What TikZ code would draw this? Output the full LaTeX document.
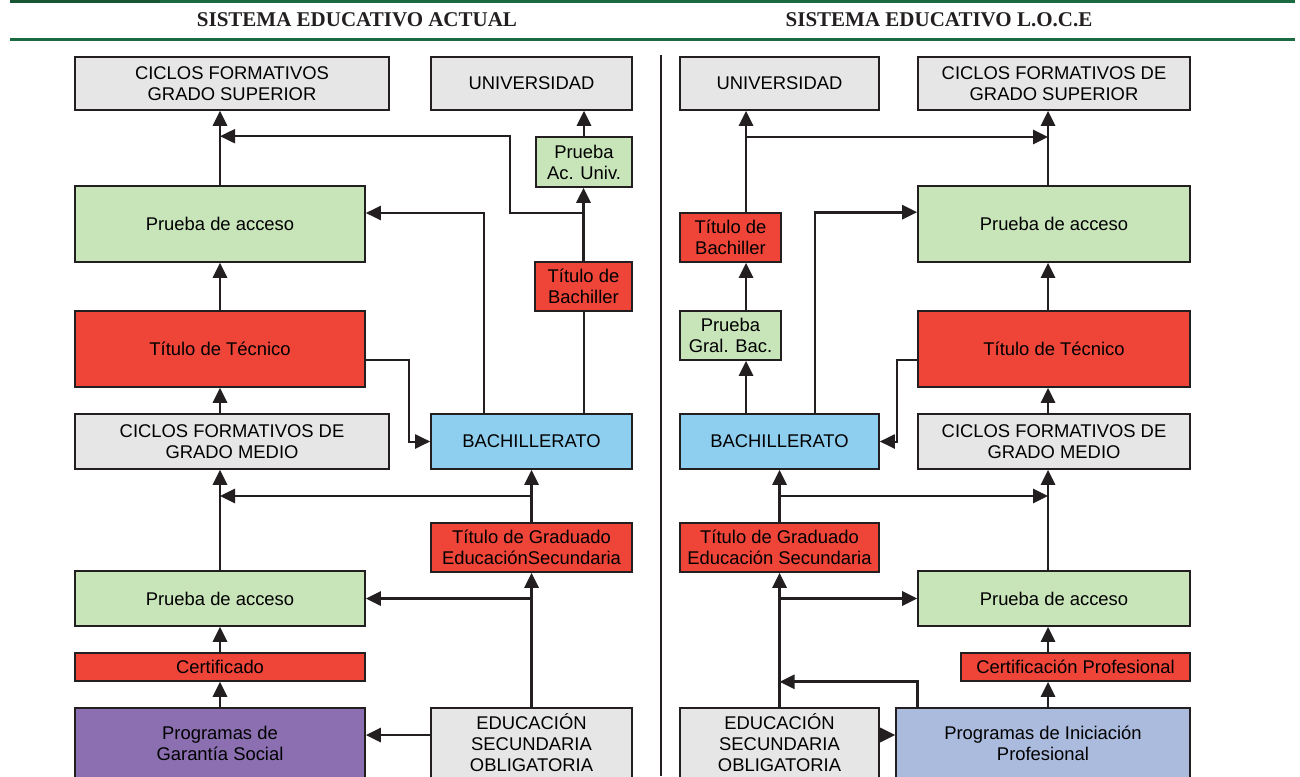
\documentclass[tikz,border=0pt]{standalone}
\usepackage{fontspec}
\setmainfont{Liberation Serif}
\setsansfont{Liberation Sans}
\usetikzlibrary{arrows.meta, positioning, calc}

\definecolor{linea}{RGB}{35,31,32}
\definecolor{verdecab}{RGB}{27,107,66}
\definecolor{grisbox}{RGB}{230,230,230}
\definecolor{verdebox}{RGB}{200,228,185}
\definecolor{rojobox}{RGB}{239,69,57}
\definecolor{azulbox}{RGB}{142,206,238}
\definecolor{moradobox}{RGB}{139,111,176}
\definecolor{lilabox}{RGB}{170,187,221}

\begin{document}
\begin{tikzpicture}[
    x=0.5pt, y=-0.5pt,
    caja/.style={rectangle, draw=linea, line width=0.8pt, inner sep=1pt, align=center, text=black, font=\sffamily\fontsize{9.2}{10.5}\selectfont},
    gris/.style={caja, fill=grisbox},
    verde/.style={caja, fill=verdebox},
    rojo/.style={caja, fill=rojobox},
    azul/.style={caja, fill=azulbox},
    morado/.style={caja, fill=moradobox},
    lila/.style={caja, fill=lilabox},
    titulo/.style={text=linea, font=\bfseries\fontsize{10.5}{12}\selectfont},
    arrow/.style={line width=1.4pt, draw=linea, -{Triangle[length=7.5pt,width=7pt]}},
    thinarrow/.style={line width=1pt, draw=linea, -{Triangle[length=7.5pt,width=7pt]}}
]
\useasboundingbox (0,0) rectangle (1300,776);
\clip (0,0) rectangle (1300,776);

% cabecera
\fill[verdecab] (10,0) rectangle (1295,2.5);
\fill[verdecab!80!black] (10,0) rectangle (160,3);
\fill[verdecab] (10,38) rectangle (1295,41);
\node (tituloA) [titulo] at (357,20) {SISTEMA EDUCATIVO ACTUAL};
\node (tituloB) [titulo] at (939,20) {SISTEMA EDUCATIVO L.O.C.E};
\draw[linea, line width=0.8pt] (661,55) -- (661,776);

% sistema actual
\node (cgsL) [gris, minimum width=157pt, minimum height=26.5pt] at (232,83.5) {CICLOS FORMATIVOS\\GRADO SUPERIOR};
\node (uniL) [gris, minimum width=100.5pt, minimum height=26.5pt] at (531.5,83.5) {UNIVERSIDAD};
\node (pauL) [verde, minimum width=48pt, minimum height=25pt] at (584,162) {Prueba\\Ac. Univ.};
\node (paccL) [verde, minimum width=145pt, minimum height=38pt] at (220,224) {Prueba de acceso};
\node (tbachL) [rojo, minimum width=48.5pt, minimum height=24.5pt] at (583.5,286.5) {Título de\\Bachiller};
\node (ttecL) [rojo, minimum width=145pt, minimum height=38pt] at (220,349) {Título de Técnico};
\node (cgmL) [gris, minimum width=157pt, minimum height=27.5pt] at (232,441.5) {CICLOS FORMATIVOS DE\\GRADO MEDIO};
\node (bachL) [azul, minimum width=100.5pt, minimum height=27.5pt] at (531.5,441.5) {BACHILLERATO};
\node (tgesoL) [rojo, minimum width=100.5pt, minimum height=24.5pt] at (531.5,547.5) {Título de Graduado\\EducaciónSecundaria};
\node (pacc2L) [verde, minimum width=145pt, minimum height=27.5pt] at (220,598.5) {Prueba de acceso};
\node (certL) [rojo, minimum width=145pt, minimum height=14pt] at (220,667) {Certificado};
\node (pgsL) [morado, minimum width=145pt, minimum height=35pt] at (220,743) {Programas de\\Garantía Social};
\node (esoL) [gris, minimum width=100.5pt, minimum height=35pt] at (531.5,743) {EDUCACIÓN\\SECUNDARIA\\OBLIGATORIA};

\coordinate (kL) at (510,213);
\coordinate (bL) at (484,213);
\coordinate (mL) at ($(tgesoL.north)!.5!(bachL.south)$);

\draw [arrow] (paccL.north) -- (paccL.north |- cgsL.south);
\draw [arrow] (pauL.north) -- (pauL.north |- uniL.south);
\draw [arrow] (tbachL.north) -- (tbachL.north |- pauL.south);
\draw [thinarrow] (tbachL.north |- kL) -- (kL) |- (paccL.north |- pauL.north);
\draw [thinarrow] (bachL.north -| bL) -- (bL) -- (paccL.east |- bL);
\draw [thinarrow, -] (bachL.north -| tbachL) -- (tbachL.south);
\draw [arrow] (ttecL.north) -- (paccL.south);
\draw [thinarrow] ($(ttecL.east)+(0,11)$) -| ($(bachL.west)+(-21,0)$) -- (bachL.west);
\draw [arrow] (cgmL.north -| ttecL) -- (ttecL.south);
\draw [arrow] (pacc2L.north) -- (pacc2L.north |- cgmL.south);
\draw [arrow] (mL) -- (mL -| pacc2L.north);
\draw [arrow] (tgesoL.north) -- (bachL.south);
\draw [arrow] (esoL.north) -- (tgesoL.south);
\draw [arrow] (esoL.north |- pacc2L.east) -- (pacc2L.east);
\draw [arrow] (certL.north) -- (pacc2L.south);
\draw [arrow] (pgsL.north) -- (certL.south);
\draw [arrow] ([yshift=4pt]esoL.west) -- ([yshift=4pt]pgsL.east);

% sistema L.O.C.E
\node (uniR) [gris, minimum width=99.5pt, minimum height=26.5pt] at (779.5,83.5) {UNIVERSIDAD};
\node (cgsR) [gris, minimum width=136pt, minimum height=26.5pt] at (1054,83.5) {CICLOS FORMATIVOS DE\\GRADO SUPERIOR};
\node (paccR) [verde, minimum width=136pt, minimum height=38pt] at (1054,224) {Prueba de acceso};
\node (tbachR) [rojo, minimum width=50.5pt, minimum height=24.5pt] at (730.5,237.5) {Título de\\Bachiller};
\node (pgbR) [verde, minimum width=50.5pt, minimum height=24.5pt] at (730.5,335.5) {Prueba\\Gral. Bac.};
\node (ttecR) [rojo, minimum width=136pt, minimum height=38pt] at (1054,349) {Título de Técnico};
\node (bachR) [azul, minimum width=99.5pt, minimum height=27.5pt] at (779.5,441.5) {BACHILLERATO};
\node (cgmR) [gris, minimum width=136pt, minimum height=27.5pt] at (1054,441.5) {CICLOS FORMATIVOS DE\\GRADO MEDIO};
\node (tgesoR) [rojo, minimum width=99.5pt, minimum height=24.5pt] at (779.5,547.5) {Título de Graduado\\Educación Secundaria};
\node (pacc2R) [verde, minimum width=136pt, minimum height=27.5pt] at (1054,598.5) {Prueba de acceso};
\node (certR) [rojo, minimum width=114.5pt, minimum height=14pt] at (1075.5,667) {Certificación Profesional};
\node (esoR) [gris, minimum width=99.5pt, minimum height=35pt] at (779.5,743) {EDUCACIÓN\\SECUNDARIA\\OBLIGATORIA};
\node (pipR) [lila, minimum width=147pt, minimum height=35pt] at (1043,743) {Programas de Iniciación\\Profesional};

\coordinate (cR) at (746,0);
\coordinate (cR2) at (1048,0);
\coordinate (jR) at (746,137);
\coordinate (mR) at ($(tgesoR.north)!.5!(bachR.south)$);

\draw [arrow] (tbachR.north -| cR) -- (uniR.south -| cR);
\draw [arrow] (jR) -- (jR -| cR2);
\draw [arrow] (paccR.north -| cR2) -- (cgsR.south -| cR2);
\draw [arrow] (pgbR.north -| cR) -- (tbachR.south -| cR);
\draw [arrow] (bachR.north -| cR) -- (pgbR.south -| cR);
\draw [arrow] ($(bachR.north)+(35.5,0)$) |- (paccR.west |- tbachR.north);
\draw [arrow] (ttecR.north -| cR2) -- (paccR.south -| cR2);
\draw [arrow] (cgmR.north -| cR2) -- (ttecR.south -| cR2);
\draw [thinarrow] ($(ttecR.west)+(0,11)$) -| ($(bachR.east)+(17,0)$) -- (bachR.east);
\draw [arrow] (tgesoR.north) -- (bachR.south);
\draw [arrow] (mR) -- (mR -| cR2);
\draw [arrow] (pacc2R.north -| cR2) -- (cgmR.south -| cR2);
\draw [arrow] (esoR.north) -- (tgesoR.south);
\draw [arrow] (esoR.north |- pacc2R.west) -- (pacc2R.west);
\draw [arrow] (certR.north -| cR2) -- (pacc2R.south -| cR2);
\draw [arrow] (pipR.north -| cR2) -- (certR.south -| cR2);
\draw [arrow] (pipR.north -| paccR.west) |- (esoR.north |- certR.south);
\draw [arrow] ([yshift=4pt]esoR.east) -- ([yshift=4pt]pipR.west);
\end{tikzpicture}
\end{document}
